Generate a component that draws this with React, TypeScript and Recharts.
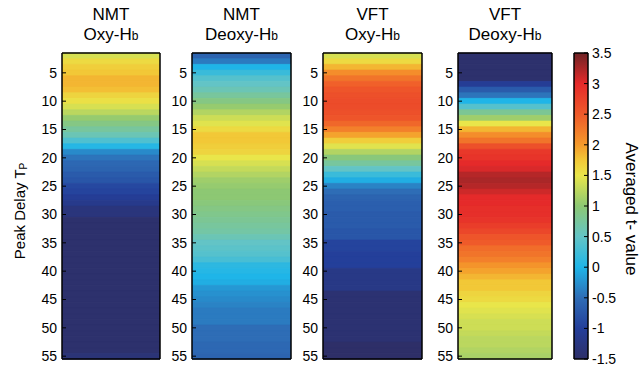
import React from 'react';
import { BarChart, Bar, XAxis, YAxis, Cell } from 'recharts';

// peak delay rows (T_P) shown in every strip
const peakDelays = [
  2, 3, 4, 5, 6, 7, 8, 9, 10, 11, 12, 13, 14, 15, 16, 17, 18, 19, 20, 21, 22, 23, 24, 25, 26, 27, 28,
  29, 30, 31, 32, 33, 34, 35, 36, 37, 38, 39, 40, 41, 42, 43, 44, 45, 46, 47, 48, 49, 50, 51, 52, 53, 54, 55,
];

// averaged t-values, one per peak delay
const nmtOxy = [
  1.4, 1.6, 1.7, 1.75, 1.85, 1.85, 1.8, 1.65, 1.55, 1.4, 1.25, 1.05, 0.9, 0.75, 0.6, 0.35, 0.05, -0.3,
  -0.45, -0.55, -0.6, -0.7, -0.75, -0.9, -0.95, -1.05, -1.15, -1.3, -1.3, -1.45, -1.45, -1.45, -1.45,
  -1.45, -1.45, -1.45, -1.45, -1.45, -1.45, -1.45, -1.45, -1.45, -1.45, -1.45, -1.45, -1.45, -1.45,
  -1.45, -1.45, -1.45, -1.45, -1.45, -1.45, -1.35,
];
const nmtDeoxy = [
  -0.6, -0.4, 0.0, 0.2, 0.4, 0.5, 0.6, 0.75, 0.9, 1.05, 1.2, 1.35, 1.45, 1.6, 1.75, 1.75, 1.7, 1.65,
  1.5, 1.4, 1.3, 1.2, 1.1, 1.05, 1.0, 1.0, 0.95, 0.9, 0.85, 0.8, 0.75, 0.7, 0.6, 0.5, 0.45, 0.4, 0.3,
  0.1, 0.05, 0.0, -0.05, -0.2, -0.25, -0.3, -0.35, -0.4, -0.4, -0.4, -0.5, -0.5, -0.5, -0.55, -0.55, -0.6,
];
const vftOxy = [
  1.4, 1.6, 1.85, 2.1, 2.3, 2.45, 2.55, 2.6, 2.65, 2.65, 2.6, 2.55, 2.4, 2.2, 1.95, 1.7, 1.45, 1.2,
  0.95, 0.75, 0.5, 0.2, -0.05, -0.35, -0.5, -0.6, -0.65, -0.65, -0.7, -0.7, -0.7, -0.75, -0.75, -0.95,
  -0.95, -1.0, -1.0, -1.0, -1.2, -1.2, -1.2, -1.2, -1.4, -1.4, -1.4, -1.4, -1.4, -1.4, -1.4, -1.4,
  -1.4, -1.5, -1.5, -1.5,
];
const vftDeoxy = [
  -1.45, -1.45, -1.45, -1.45, -1.45, -1.05, -0.7, -0.45, 0.0, 0.4, 0.8, 1.1, 1.5, 1.85, 2.1, 2.3, 2.6,
  2.85, 2.9, 3.0, 3.05, 3.2, 3.25, 3.2, 3.1, 3.0, 3.0, 2.95, 2.95, 2.9, 2.8, 2.7, 2.55, 2.5, 2.35, 2.3,
  2.2, 2.05, 1.95, 1.85, 1.75, 1.75, 1.65, 1.6, 1.5, 1.45, 1.4, 1.35, 1.35, 1.3, 1.25, 1.25, 1.2, 1.15,
];

const delayTicks = [5, 10, 15, 20, 25, 30, 35, 40, 45, 50, 55];
const tValueTicks = [-1.5, -1, -0.5, 0, 0.5, 1, 1.5, 2, 2.5, 3, 3.5];

// colormap used for the t-values
const cmapValues = [-1.5, -1, -0.5, 0, 0.5, 1, 1.5, 1.75, 2, 2.5, 3, 3.5];
const cmapColors = [
  '#2e2f68', '#243f9a', '#2e6db6', '#1fb5e8', '#63c4c6', '#8dc873',
  '#e9e64a', '#f2c837', '#f59a2b', '#ef5a2a', '#e52a2a', '#6e2325',
];

const hexToRgb = (h: string) => [1, 3, 5].map((i) => parseInt(h.slice(i, i + 2), 16));

function tColor(v: number): string {
  if (v <= cmapValues[0]) return cmapColors[0];
  for (let i = 1; i < cmapValues.length; i++) {
    if (v <= cmapValues[i]) {
      const f = (v - cmapValues[i - 1]) / (cmapValues[i] - cmapValues[i - 1]);
      const a = hexToRgb(cmapColors[i - 1]);
      const b = hexToRgb(cmapColors[i]);
      const c = a.map((x, k) => Math.round(x + (b[k] - x) * f));
      return `rgb(${c[0]},${c[1]},${c[2]})`;
    }
  }
  return cmapColors[cmapColors.length - 1];
}

const FONT = '"Liberation Sans", Arial, Helvetica, sans-serif';
const PLOT_TOP = 53;
const PLOT_H = 306;
const EDGE = 5;
const PAD = 7; // room so end tick labels are not clipped
const frame = { stroke: '#000', strokeWidth: 1.5 };
const tickStroke = { stroke: '#000', strokeWidth: 1 };

const PeakLabel = (props: any) => {
  const vb = props.viewBox || { x: 0, y: 5, width: 62, height: PLOT_H };
  const x = vb.x + 19;
  const y = vb.y + vb.height / 2 + 5;
  return (
    <text x={x} y={y} transform={`rotate(-90 ${x} ${y})`} textAnchor="middle" dominantBaseline="central"
      fontSize={15} fill="#000" fontFamily={FONT}>
      Peak Delay T<tspan fontSize={10} dy={4}>P</tspan>
    </text>
  );
};

const TValueLabel = (props: any) => {
  const vb = props.viewBox || { x: 19, y: 5, width: 51, height: PLOT_H };
  const x = vb.x + 43;
  const y = vb.y + vb.height / 2 + 3;
  return (
    <text x={x} y={y} transform={`rotate(90 ${x} ${y})`} textAnchor="middle" dominantBaseline="central"
      fontSize={17} fill="#000" fontFamily={FONT}>
      Averaged t- value
    </text>
  );
};

interface PanelProps {
  group: string;
  signal: string;
  values: number[];
  left: number;
  width: number;
  axisWidth: number;
  yLabel?: boolean;
}

function Panel({ group, signal, values, left, width, axisWidth, yLabel }: PanelProps) {
  const rows = peakDelays.map((d, i) => ({ delay: d, t: values[i], span: 1 }));
  return (
    <>
      <div style={{ position: 'absolute', left, top: 5, width, textAlign: 'center', fontSize: 17, lineHeight: '19.5px', color: '#000' }}>
        <div>{group}</div>
        <div>
          {signal}-H<span style={{ fontSize: 12 }}>b</span>
        </div>
      </div>
      <div style={{ position: 'absolute', left: left - axisWidth, top: PLOT_TOP - EDGE - PAD }}>
        <BarChart
          layout="vertical"
          width={axisWidth + width + EDGE}
          height={PLOT_H + 2 * EDGE + 2 * PAD}
          data={rows}
          margin={{ top: PAD, right: 0, bottom: PAD, left: 0 }}
          barCategoryGap={0}
          barGap={0}
        >
          <Bar xAxisId="bot" yAxisId="l" dataKey="span" isAnimationActive={false}>
            {rows.map((r) => (
              <Cell key={r.delay} fill={tColor(r.t)} stroke={tColor(r.t)} strokeWidth={0.6} />
            ))}
          </Bar>
          <XAxis xAxisId="bot" orientation="bottom" type="number" domain={[0, 1]} ticks={[0.5]} tick={false}
            height={EDGE} tickSize={-4} axisLine={frame} tickLine={tickStroke} allowDataOverflow />
          <XAxis xAxisId="top" orientation="top" type="number" domain={[0, 1]} ticks={[0.5]} tick={false}
            height={EDGE} tickSize={-4} axisLine={frame} tickLine={tickStroke} allowDataOverflow />
          <YAxis
            yAxisId="l"
            orientation="left"
            type="category"
            dataKey="delay"
            ticks={delayTicks}
            interval={0}
            width={axisWidth}
            tickSize={-4}
            tickMargin={9}
            axisLine={frame}
            tickLine={tickStroke}
            tick={{ fill: '#000', fontSize: 14, fontFamily: FONT }}
            label={yLabel ? PeakLabel : undefined}
          />
          <YAxis yAxisId="r" orientation="right" type="category" dataKey="delay" ticks={delayTicks} interval={0}
            width={EDGE} tick={false} tickSize={-4} axisLine={frame} tickLine={tickStroke} />
        </BarChart>
      </div>
    </>
  );
}

function ColorBar() {
  const lo = tValueTicks[0];
  const hi = tValueTicks[tValueTicks.length - 1];
  const data = [{ name: 't', range: [lo, hi] }];
  const left = 574;
  const width = 14;
  const rightW = 51;
  // gradient stops must run top (high) to bottom (low)
  const stops = cmapValues.map((v, i) => ({ v, c: cmapColors[i] })).reverse();
  return (
    <div style={{ position: 'absolute', left: left - EDGE, top: PLOT_TOP - EDGE - PAD }}>
      <BarChart
        width={EDGE + width + rightW}
        height={PLOT_H + 2 * EDGE + 2 * PAD}
        data={data}
        margin={{ top: PAD, right: 0, bottom: PAD, left: 0 }}
        barCategoryGap={0}
      >
        <defs>
          <linearGradient id="tScale" x1="0" y1="0" x2="0" y2="1">
            {stops.map((s) => (
              <stop key={s.v} offset={(hi - s.v) / (hi - lo)} stopColor={s.c} />
            ))}
          </linearGradient>
        </defs>
        <XAxis xAxisId="c" type="category" dataKey="name" hide height={0} />
        <YAxis yAxisId="v" type="number" domain={[lo, hi]} hide width={0} allowDataOverflow />
        <Bar xAxisId="c" yAxisId="v" dataKey="range" fill="url(#tScale)" isAnimationActive={false} />
        <XAxis xAxisId="ct" orientation="top" type="number" domain={[0, 1]} tick={false} tickLine={false}
          height={EDGE} axisLine={frame} allowDataOverflow />
        <XAxis xAxisId="cb" orientation="bottom" type="number" domain={[0, 1]} tick={false} tickLine={false}
          height={EDGE} axisLine={frame} allowDataOverflow />
        <YAxis yAxisId="cl" orientation="left" type="number" domain={[lo, hi]} allowDataOverflow ticks={tValueTicks}
          interval={0} width={EDGE} tick={false} tickSize={-4} axisLine={frame} tickLine={tickStroke} />
        <YAxis
          yAxisId="cr"
          orientation="right"
          type="number"
          domain={[lo, hi]}
          allowDataOverflow
          ticks={tValueTicks}
          interval={0}
          width={rightW}
          tickSize={-4}
          tickMargin={8}
          axisLine={frame}
          tickLine={tickStroke}
          tick={{ fill: '#000', fontSize: 14, fontFamily: FONT }}
          label={TValueLabel}
        />
      </BarChart>
    </div>
  );
}

export default function App() {
  return (
    <div style={{ position: 'absolute', left: 0, top: 0, width: 639, height: 367, background: '#fff', fontFamily: FONT, overflow: 'hidden' }}>
      <Panel group="NMT" signal="Oxy" values={nmtOxy} left={62} width={98} axisWidth={62} yLabel />
      <Panel group="NMT" signal="Deoxy" values={nmtDeoxy} left={192} width={99} axisWidth={45} />
      <Panel group="VFT" signal="Oxy" values={vftOxy} left={323} width={99} axisWidth={45} />
      <Panel group="VFT" signal="Deoxy" values={vftDeoxy} left={458} width={94} axisWidth={45} />
      <ColorBar />
    </div>
  );
}
